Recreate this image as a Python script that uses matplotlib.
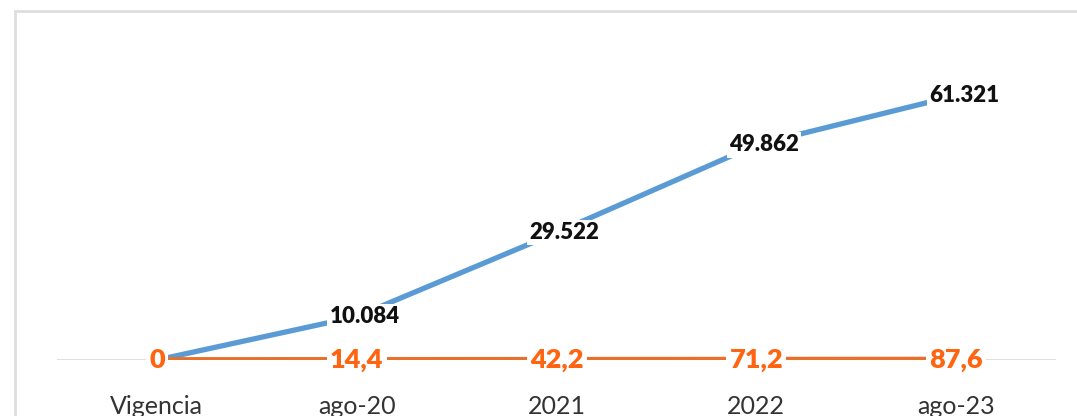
import matplotlib
matplotlib.use("Agg")
import matplotlib.pyplot as plt
from matplotlib.patches import Rectangle

plt.rcParams['font.family'] = ['Lato', 'DejaVu Sans']

categories = ["Vigencia", "ago-20", "2021", "2022", "ago-23"]
blue_vals = [0, 10084, 29522, 49862, 61321]
blue_labels = ["", "10.084", "29.522", "49.862", "61.321"]
orange_vals = [0, 14.4, 42.2, 71.2, 87.6]
orange_labels = ["0", "14,4", "42,2", "71,2", "87,6"]

blue = '#5b9bd5'
orange = '#e8702a'
orange_txt = '#ff6410'

fig = plt.figure(figsize=(10.77, 4.16), dpi=100)
fig.patch.set_facecolor('white')

# light frame around the chart (runs off the right / bottom edge)
fig.patches.append(Rectangle((15 / 1077, -0.1), 1.2, (416 - 11) / 416 + 0.1,
                             transform=fig.transFigure, fill=False,
                             edgecolor='#dedede', linewidth=2))

ax = fig.add_axes([57 / 1077, 56 / 416, 999 / 1077, 302 / 416])
x = list(range(len(categories)))

ax.axhline(0, color='#d9d9d9', linewidth=1.2, zorder=1)
ax.plot(x, blue_vals, color=blue, linewidth=3.8, solid_capstyle='butt', zorder=2)
ax.plot(x, orange_vals, color=orange, linewidth=4.2, solid_capstyle='butt', zorder=3)

for xi, v, t in zip(x, blue_vals, blue_labels):
    if t:
        ax.text(xi + 0.04, v, t, ha='center', va='center', fontsize=16,
                fontweight='heavy', color='#111111', zorder=5,
                bbox=dict(boxstyle='square,pad=0.1', fc='white', ec='none'))

for xi, v, t in zip(x, orange_vals, orange_labels):
    ax.text(xi, v, t, ha='center', va='center', fontsize=19.5,
            fontweight='heavy', color=orange_txt, zorder=6,
            bbox=dict(boxstyle='square,pad=0.12', fc='white', ec='none'))

ax.set_xlim(-0.5, 4.5)
ax.set_ylim(0, 70000)
ax.set_xticks(x)
ax.set_xticklabels(categories, fontsize=18, color='#333333')
ax.tick_params(axis='x', length=0, pad=25)
ax.set_yticks([])
for s in ax.spines.values():
    s.set_visible(False)
ax.patch.set_alpha(0)

fig.savefig('out.png', dpi=100)
